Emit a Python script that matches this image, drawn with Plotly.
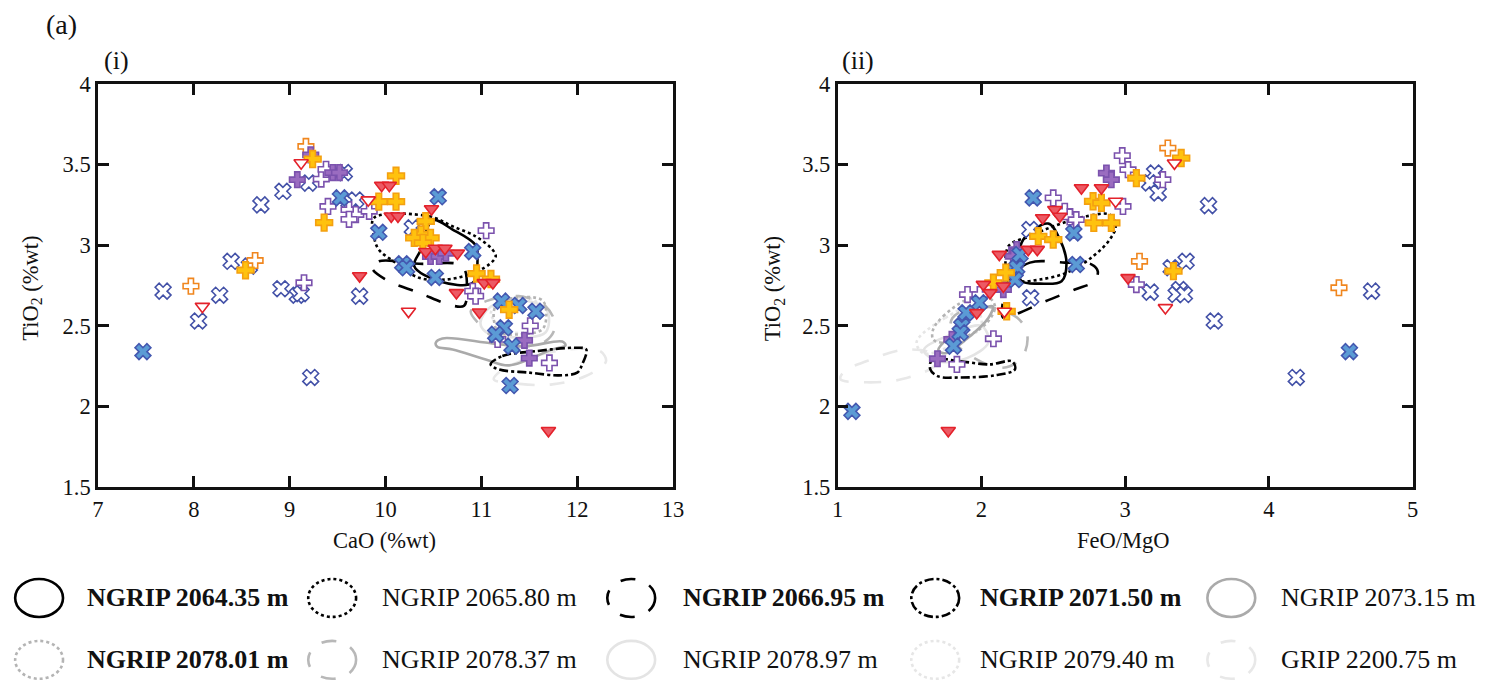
import plotly.graph_objects as go

W, H = 1485, 681
FONT = "Liberation Serif, Times New Roman, serif"

# ---------------- data: panel (i) CaO vs TiO2 ----------------
cao_ox = [9.20, 8.93, 8.70, 9.57, 9.62, 9.69, 8.39, 8.58, 9.73, 7.68, 8.27, 8.05, 8.91, 9.08, 9.12, 9.22, 10.28]
tio_ox_i = [3.385, 3.334, 3.25, 3.45, 3.27, 3.28, 2.90, 2.87, 2.684, 2.715, 2.69, 2.53, 2.73, 2.69, 2.70, 2.18, 3.107]
cao_fx = [7.47, 9.53, 9.93, 10.18, 10.22, 10.55, 10.91, 10.52, 11.21, 11.39, 11.57, 11.24, 11.15, 11.32, 11.30]
tio_fx_i = [2.34, 3.293, 3.08, 2.885, 2.86, 3.30, 2.96, 2.80, 2.653, 2.626, 2.59, 2.488, 2.447, 2.374, 2.13]
cao_op = [9.33, 9.38, 9.40, 9.62, 9.69, 9.62, 9.83, 9.15, 11.05, 10.91, 10.94, 11.51, 11.17, 11.71]
tio_op_i = [3.41, 3.47, 3.24, 3.22, 3.19, 3.16, 3.21, 2.767, 3.09, 2.715, 2.684, 2.50, 2.416, 2.27]
cao_fp = [9.22, 9.08, 9.45, 9.52, 10.47, 10.56, 10.63, 11.45, 11.50]
tio_fp_i = [3.56, 3.406, 3.45, 3.45, 2.93, 2.93, 2.95, 2.41, 2.30]
cao_oo = [9.17, 8.64, 7.97]
tio_oo_i = [3.612, 2.905, 2.746]
cao_fo = [9.24, 9.93, 10.11, 10.11, 9.36, 8.54, 10.42, 10.37, 10.30, 10.47, 10.39, 10.95, 11.10, 11.29]
tio_fo_i = [3.534, 3.27, 3.27, 3.43, 3.14, 2.845, 3.148, 3.066, 3.045, 3.045, 3.014, 2.824, 2.79, 2.60]
cao_ot = [9.12, 9.82, 8.09, 10.24]
tio_ot_i = [3.51, 3.28, 2.62, 2.59]
cao_ft = [9.96, 10.04, 10.06, 10.13, 9.73, 10.48, 10.42, 10.52, 10.62, 10.75, 11.03, 11.12, 10.74, 10.98, 11.70]
tio_ft_i = [3.37, 3.37, 3.18, 3.18, 2.81, 3.225, 2.96, 2.98, 2.98, 2.95, 2.767, 2.767, 2.705, 2.585, 1.85]

# ---------------- data: panel (ii) FeO/MgO vs TiO2 ----------------
fm_ox = [3.205, 3.17, 3.23, 3.58, 2.338, 3.32, 3.424, 3.175, 3.378, 3.355, 3.412, 3.62, 4.714, 2.343, 4.19]
tio_ox_ii = [3.447, 3.386, 3.324, 3.245, 3.097, 2.86, 2.90, 2.709, 2.725, 2.694, 2.694, 2.53, 2.715, 2.674, 2.18]
fm_fx = [2.361, 2.643, 2.66, 2.234, 2.269, 2.246, 2.234, 1.987, 1.894, 1.864, 1.853, 1.806, 4.56, 1.10]
tio_fx_ii = [3.293, 3.076, 2.88, 2.84, 2.942, 2.86, 2.787, 2.643, 2.581, 2.498, 2.457, 2.374, 2.34, 1.97]
fm_op = [2.98, 3.02, 3.262, 2.50, 2.985, 2.58, 2.615, 2.66, 3.078, 1.904, 1.99, 2.084, 1.83]
tio_op_ii = [3.555, 3.468, 3.406, 3.293, 3.24, 3.21, 3.175, 3.158, 2.756, 2.694, 2.694, 2.42, 2.261]
fm_fp = [2.87, 2.904, 2.246, 2.222, 2.153, 1.795, 1.695]
tio_fp_ii = [3.447, 3.406, 2.973, 2.931, 2.725, 2.416, 2.296]
fm_oo = [3.297, 3.10, 4.487]
tio_oo_ii = [3.602, 2.90, 2.736]
fm_fo = [3.39, 3.078, 2.777, 2.835, 2.782, 2.904, 2.396, 2.50, 3.336, 2.176, 2.17, 2.084]
tio_fo_ii = [3.54, 3.416, 3.272, 3.262, 3.138, 3.138, 3.055, 3.035, 2.839, 2.59, 2.83, 2.767]
fm_ot = [3.343, 2.934, 3.28, 2.16]
tio_ot_ii = [3.509, 3.272, 2.612, 2.59]
fm_ft = [2.696, 2.835, 2.511, 2.546, 2.426, 2.326, 2.389, 2.125, 3.02, 2.014, 2.06, 2.153, 1.968, 1.77]
tio_ft_ii = [3.355, 3.355, 3.22, 3.179, 3.169, 2.973, 2.973, 2.942, 2.798, 2.756, 2.705, 2.746, 2.581, 1.85]

# ---------------- contour outlines (x, TiO2) ----------------
ct_2064_i = [(10.49, 3.154), (10.70, 3.097), (10.94, 3.0), (10.96, 2.92), (10.91, 2.767), (10.56, 2.777), (10.30, 2.87), (10.37, 2.973)]
ct_2065_i = [(9.88, 3.169), (10.455, 3.179), (10.698, 3.117), (10.94, 3.055), (11.115, 2.973), (11.15, 2.931), (11.08, 2.88), (10.87, 2.818), (10.63, 2.787), (10.35, 2.798), (10.11, 2.89), (9.93, 2.973), (9.88, 3.055)]
ct_2066_i = [(9.86, 2.86), (9.93, 2.90), (10.35, 2.885), (10.80, 2.87), (10.85, 2.73), (10.82, 2.625), (10.70, 2.625), (10.35, 2.705), (10.0, 2.787)]
ct_2071_i = [(11.097, 2.261), (11.219, 2.313), (11.566, 2.343), (11.98, 2.364), (12.094, 2.354), (12.052, 2.261), (12.0, 2.21), (11.81, 2.193), (11.50, 2.21), (11.18, 2.23)]
ct_2073_i = [(10.524, 2.395), (10.594, 2.422), (11.115, 2.391), (11.46, 2.374), (11.844, 2.403), (11.878, 2.379), (11.74, 2.354), (11.29, 2.255), (11.045, 2.292), (10.70, 2.354), (10.54, 2.37)]
ct_207801_i = [(11.15, 2.622), (11.29, 2.668), (11.635, 2.659), (11.677, 2.56), (11.635, 2.478), (11.39, 2.447), (11.18, 2.461), (11.13, 2.54)]
ct_207837_i = [(10.89, 2.59), (11.05, 2.653), (11.39, 2.684), (11.67, 2.622), (11.77, 2.498), (11.67, 2.405), (11.39, 2.374), (11.11, 2.436), (10.98, 2.509)]
ct_207897_i = [(10.99, 2.52), (11.05, 2.46), (11.29, 2.43), (11.67, 2.46), (11.68, 2.60), (11.40, 2.66), (11.10, 2.62)]
ct_207940_i = [(11.10, 2.58), (11.25, 2.66), (11.55, 2.66), (11.62, 2.56), (11.50, 2.47), (11.25, 2.47)]
ct_grip_i = [(11.13, 2.168), (11.40, 2.14), (11.74, 2.137), (12.09, 2.189), (12.30, 2.28), (12.24, 2.343), (11.91, 2.354), (11.5, 2.30), (11.2, 2.22)]

ct_2064_ii = [(2.465, 3.134), (2.546, 3.035), (2.592, 2.89), (2.558, 2.777), (2.407, 2.762), (2.28, 2.777), (2.257, 2.87), (2.292, 3.035)]
ct_2065_ii = [(2.731, 3.179), (2.893, 3.189), (2.934, 3.117), (2.893, 3.035), (2.777, 2.931), (2.592, 2.829), (2.407, 2.787), (2.269, 2.777), (2.188, 2.808), (2.188, 2.993), (2.338, 3.055), (2.50, 3.117)]
ct_2066_ii = [(2.20, 2.80), (2.338, 2.892), (2.58, 2.892), (2.768, 2.88), (2.81, 2.837), (2.782, 2.775), (2.65, 2.725), (2.442, 2.651), (2.234, 2.57), (2.15, 2.552), (2.15, 2.65)]
ct_2071_ii = [(1.659, 2.292), (1.853, 2.28), (2.06, 2.261), (2.213, 2.28), (2.234, 2.23), (2.095, 2.193), (1.853, 2.18), (1.70, 2.187), (1.645, 2.23)]
ct_2073_ii = [(1.70, 2.35), (1.80, 2.45), (2.0, 2.60), (2.08, 2.62), (2.05, 2.55), (1.9, 2.42), (1.75, 2.33)]
ct_207801_ii = [(1.665, 2.478), (1.735, 2.56), (1.90, 2.663), (2.04, 2.684), (2.095, 2.62), (2.04, 2.52), (1.90, 2.436), (1.735, 2.395), (1.665, 2.416)]
ct_207837_ii = [(1.80, 2.55), (2.0, 2.62), (2.25, 2.55), (2.32, 2.44), (2.28, 2.30), (2.15, 2.24), (1.95, 2.30), (1.80, 2.42)]
ct_207897_ii = [(1.6, 2.35), (1.8, 2.45), (2.0, 2.5), (2.05, 2.4), (1.9, 2.3), (1.7, 2.28)]
ct_207940_ii = [(1.55, 2.40), (1.75, 2.55), (1.95, 2.62), (2.0, 2.50), (1.8, 2.38), (1.6, 2.33)]
ct_grip_ii = [(1.02, 2.17), (1.2, 2.15), (1.45, 2.17), (1.68, 2.26), (1.65, 2.33), (1.45, 2.35), (1.2, 2.28), (1.05, 2.22)]

legend_labels = ["NGRIP 2064.35 m", "NGRIP 2065.80 m", "NGRIP 2066.95 m", "NGRIP 2071.50 m", "NGRIP 2073.15 m",
                 "NGRIP 2078.01 m", "NGRIP 2078.37 m", "NGRIP 2078.97 m", "NGRIP 2079.40 m", "GRIP 2200.75 m"]
legend_bold = [True, False, True, True, False, True, False, False, False, False]

# ---------------- styles ----------------
contour_styles = [
    dict(color="#000000", dash="solid"),
    dict(color="#000000", dash="dot"),
    dict(color="#000000", dash="longdash"),
    dict(color="#000000", dash="dashdot"),
    dict(color="#aaaaaa", dash="solid"),
    dict(color="#b4b4b4", dash="dot"),
    dict(color="#b8b8b8", dash="longdash"),
    dict(color="#e4e4e4", dash="solid"),
    dict(color="#e6e6e6", dash="dot"),
    dict(color="#e8e8e8", dash="longdash"),
]
contours_i = [ct_2064_i, ct_2065_i, ct_2066_i, ct_2071_i, ct_2073_i, ct_207801_i, ct_207837_i, ct_207897_i, ct_207940_i, ct_grip_i]
contours_ii = [ct_2064_ii, ct_2065_ii, ct_2066_ii, ct_2071_ii, ct_2073_ii, ct_207801_ii, ct_207837_ii, ct_207897_ii, ct_207940_ii, ct_grip_ii]

fig = go.Figure()

for idx in reversed(range(10)):
    for pts, xa, ya in ((contours_i[idx], "x", "y"), (contours_ii[idx], "x2", "y2")):
        xs = [p[0] for p in pts] + [pts[0][0]]
        ys = [p[1] for p in pts] + [pts[0][1]]
        fig.add_trace(go.Scatter(x=xs, y=ys, mode="lines", xaxis=xa, yaxis=ya,
                                 line=dict(color=contour_styles[idx]["color"], dash=contour_styles[idx]["dash"],
                                           width=2.6, shape="spline", smoothing=1.0),
                                 hoverinfo="skip", showlegend=False))

marker_series = [
    (cao_ox, tio_ox_i, fm_ox, tio_ox_ii, "x", "#ffffff", "#4452a8", 14),
    (cao_op, tio_op_i, fm_op, tio_op_ii, "cross", "#ffffff", "#7b52ad", 13),
    (cao_oo, tio_oo_i, fm_oo, tio_oo_ii, "cross", "#ffffff", "#f0861e", 13),
    (cao_fp, tio_fp_i, fm_fp, tio_fp_ii, "cross", "#9a6cc0", "#7b52ad", 13),
    (cao_fx, tio_fx_i, fm_fx, tio_fx_ii, "x", "#5b9bd5", "#4458b0", 14),
    (cao_fo, tio_fo_i, fm_fo, tio_fo_ii, "cross", "#ffc20e", "#f4a010", 14),
    (cao_ot, tio_ot_i, fm_ot, tio_ot_ii, "triangle-down", "#ffffff", "#e3222b", 12.5),
    (cao_ft, tio_ft_i, fm_ft, tio_ft_ii, "triangle-down", "#ec5a64", "#e3222b", 12.5),
]
for xi, yi, xii, yii, sym, fill, outl, sz in marker_series:
    for xs, ys, xa, ya in ((xi, yi, "x", "y"), (xii, yii, "x2", "y2")):
        fig.add_trace(go.Scatter(x=xs, y=ys, mode="markers", xaxis=xa, yaxis=ya,
                                 marker=dict(symbol=sym, size=sz, color=fill,
                                             line=dict(color=outl, width=1.6)),
                                 hoverinfo="skip", showlegend=False))

# page-pixel -> paper fraction (with a small correction for how the page is photographed)
SX, OX, SY, OY = 0.9917, 2.8, 0.965, 12.0

def px_x(p):
    return ((p - OX) / SX) / W

def px_y(p):
    return 1 - ((p - OY) / SY) / H

axis_common = dict(showline=True, linewidth=2.5, linecolor="#111111", mirror="ticks",
                   ticks="inside", ticklen=11, tickwidth=2.5, tickcolor="#111111",
                   showgrid=False, zeroline=False,
                   tickfont=dict(family=FONT, size=22.5, color="#111111"))

fig.update_layout(
    width=W, height=H, margin=dict(l=0, r=0, t=0, b=0, pad=0), autosize=False,
    paper_bgcolor="white", plot_bgcolor="white", showlegend=False,
    xaxis=dict(domain=[px_x(95), px_x(672)], range=[7, 13], dtick=1, tick0=7, anchor="y", **axis_common),
    yaxis=dict(domain=[px_y(488), px_y(84)], range=[1.5, 4], dtick=0.5, tick0=1.5, anchor="x", **axis_common),
    xaxis2=dict(domain=[px_x(837), px_x(1414)], range=[1, 5], dtick=1, tick0=1, anchor="y2", **axis_common),
    yaxis2=dict(domain=[px_y(488), px_y(84)], range=[1.5, 4], dtick=0.5, tick0=1.5, anchor="x2", **axis_common),
)

annotations = [
    dict(text="(a)", x=px_x(41), y=px_y(25), xanchor="left", yanchor="middle", size=28),
    dict(text="(i)", x=px_x(99), y=px_y(61), xanchor="left", yanchor="middle", size=26),
    dict(text="(ii)", x=px_x(839), y=px_y(61), xanchor="left", yanchor="middle", size=26),
    dict(text="CaO (%wt)", x=px_x(383), y=px_y(541), xanchor="center", yanchor="middle", size=22.5),
    dict(text="FeO/MgO", x=px_x(1124), y=px_y(541), xanchor="center", yanchor="middle", size=22.5),
    dict(text="TiO<sub>2</sub> (%wt)", x=px_x(28), y=px_y(289), xanchor="center", yanchor="middle", textangle=-90, size=22.5),
    dict(text="TiO<sub>2</sub> (%wt)", x=px_x(773), y=px_y(289), xanchor="center", yanchor="middle", textangle=-90, size=22.5),
]
shapes = []
col_circle_x = [36, 330, 630, 935, 1232]
col_text_x = [82, 378, 680, 978, 1280]
row_y = [599, 661]
for k, lab in enumerate(legend_labels):
    r, c = divmod(k, 5)
    cx, cy = col_circle_x[c], row_y[r]
    st = contour_styles[k]
    shapes.append(dict(type="circle", xref="paper", yref="paper",
                       x0=px_x(cx - 24), x1=px_x(cx + 24), y0=px_y(cy + 19), y1=px_y(cy - 19),
                       line=dict(color=st["color"], width=2.6, dash=st["dash"])))
    annotations.append(dict(text=lab, x=px_x(col_text_x[c]), y=px_y(cy), xanchor="left", yanchor="middle",
                            size=26, weight="bold" if legend_bold[k] else "normal"))

final_ann = []
for a in annotations:
    size = a.pop("size")
    weight = a.pop("weight", "normal")
    a.update(xref="paper", yref="paper", showarrow=False,
             font=dict(family=FONT, color="#111111", size=size, weight=weight))
    final_ann.append(a)

fig.update_layout(annotations=final_ann, shapes=shapes)
fig.write_html("out.html")
